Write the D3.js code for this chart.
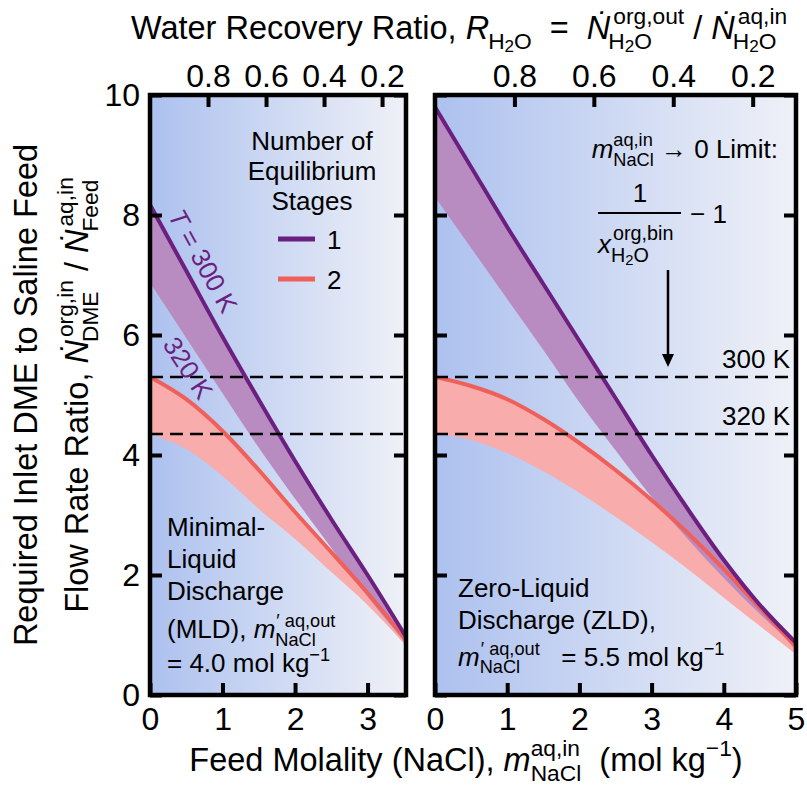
<!DOCTYPE html>
<html><head><meta charset="utf-8">
<script src="https://cdn.jsdelivr.net/npm/d3@7"></script>
<style>
body{margin:0;background:#fff}
text{font-family:'Liberation Sans',Arial,sans-serif;fill:#000;white-space:pre}
</style></head>
<body><div id="chart"></div>
<script>
// ---------------- DATA ----------------
// Minimal-Liquid Discharge panel (m'out = 4.0)
const mldM      = [0, 0.5, 1.0, 1.5, 2.0, 2.5, 3.0, 3.53];
const mld1_300  = [8.17, 7.07, 5.97, 4.92, 3.90, 2.93, 2.00, 0.97];
const mld1_320  = [6.87, 5.95, 5.03, 4.12, 3.27, 2.45, 1.64, 0.85];
const mld2_300  = [5.30, 4.93, 4.40, 3.75, 3.05, 2.38, 1.70, 0.92];
const mld2_320  = [4.35, 4.10, 3.65, 3.10, 2.60, 2.05, 1.50, 0.82];
// Zero-Liquid Discharge panel (m'out = 5.5)
const zldM      = [0, 0.5, 1.0, 1.5, 2.0, 2.5, 3.0, 3.5, 4.0, 4.5, 5.0];
const zld1_300  = [9.80, 8.80, 7.80, 6.85, 5.90, 4.95, 4.00, 3.10, 2.25, 1.50, 0.87];
const zld1_320  = [8.30, 7.45, 6.60, 5.75, 4.88, 4.08, 3.30, 2.60, 1.95, 1.35, 0.80];
const zld2_300  = [5.30, 5.15, 4.93, 4.60, 4.20, 3.75, 3.25, 2.70, 2.10, 1.45, 0.80];
const zld2_320  = [4.35, 4.25, 4.03, 3.73, 3.37, 2.97, 2.55, 2.10, 1.62, 1.15, 0.68];
// limits (1/x_bin - 1) for 300 K and 320 K
const limitVals   = [5.30, 4.35];
const limitLabels = ["300 K", "320 K"];
// axes
const yTicks     = [0, 2, 4, 6, 8, 10];
const mldXTicks  = [0, 1, 2, 3];
const zldXTicks  = [0, 1, 2, 3, 4, 5];
const topRTicks  = [0.8, 0.6, 0.4, 0.2];
const mOutVals   = [4.0, 5.5];
const mMaxVals   = [3.53, 5.0];
const stageLabels = ["1", "2"];

// ---------------- STYLE ----------------
const PURPLE = "#6b1f7f", PURPLE_FILL = "#b88cc0";
const RED = "#f0605a", PINK_FILL = "#f8acab";
const W = 807, H = 790, yTop = 95, yBot = 695;

const svg = d3.select("#chart").append("svg").attr("width", W).attr("height", H);
svg.append("rect").attr("width", W).attr("height", H).attr("fill", "#fff");
const defs = svg.append("defs");
const grad = defs.append("linearGradient").attr("id", "bg").attr("x1", 0).attr("x2", 1).attr("y1", 0).attr("y2", 0);
grad.append("stop").attr("offset", "0%").attr("stop-color", "#adc1ef");
grad.append("stop").attr("offset", "100%").attr("stop-color", "#eff1f7");

// rich text helper
function rich(parent, x0, y0, items, opt) {
  const fs = opt.fs;
  const col = opt.color || "#000";
  const g = parent.append("g").attr("transform", `translate(${x0},${y0}) rotate(${opt.rot || 0})`);
  const inner = g.append("g");
  let x = 0;
  const ss = fs * (opt.ss || 0.7);
  const subY = opt.subY != null ? opt.subY : 0.32;
  const supY = opt.supY != null ? opt.supY : 0.47;
  function addScript(xx, yy, content) {
    const t = inner.append("text").attr("x", xx).attr("y", yy).style("font-size", ss + "px").style("fill", col);
    if (content === "H2O") {
      t.append("tspan").text("H");
      t.append("tspan").attr("dy", 3).style("font-size", (ss * 0.75) + "px").text("2");
      t.append("tspan").attr("dy", -3).style("font-size", ss + "px").text("O");
    } else t.text(content);
    return t.node().getComputedTextLength();
  }
  items.forEach(it => {
    if (it.sp) { x += it.sp; return; }
    if (it.t) {
      const t = inner.append("text").attr("x", x).attr("y", 0)
        .style("font-size", fs + "px").style("font-style", it.it ? "italic" : "normal")
        .style("fill", col).text(it.t);
      x += t.node().getComputedTextLength() + (it.after || 0);
    }
    let w = 0;
    if (it.sup) w = Math.max(w, addScript(x + (it.supdx || 0), -fs * supY, it.sup) + (it.supdx || 0));
    if (it.sub) w = Math.max(w, addScript(x + (it.subdx || 0), fs * subY, it.sub) + (it.subdx || 0));
    x += w;
  });
  const shift = opt.anchor === "middle" ? -x / 2 : opt.anchor === "end" ? -x : 0;
  inner.attr("transform", `translate(${shift},${opt.dy || 0})`);
  return g;
}

const y = d3.scaleLinear().domain([0, 10]).range([yBot, yTop]);

const panels = [
  {x0: 150, x1: 406, m: mldM, s1a: mld1_300, s1b: mld1_320, s2a: mld2_300, s2b: mld2_320, xt: mldXTicks, mOut: mOutVals[0], mMax: mMaxVals[0]},
  {x0: 435, x1: 796, m: zldM, s1a: zld1_300, s1b: zld1_320, s2a: zld2_300, s2b: zld2_320, xt: zldXTicks, mOut: mOutVals[1], mMax: mMaxVals[1]}
];

panels.forEach((p, pi) => {
  const x = d3.scaleLinear().domain([0, p.mMax]).range([p.x0, p.x1]);
  const r = d3.scaleLinear().domain([1, 1 - p.mMax / p.mOut]).range([p.x0, p.x1]);
  const g = svg.append("g");
  g.append("rect").attr("x", p.x0).attr("y", yTop).attr("width", p.x1 - p.x0).attr("height", yBot - yTop).attr("fill", "url(#bg)");
  defs.append("clipPath").attr("id", "clip" + pi).append("rect")
    .attr("x", p.x0).attr("y", yTop).attr("width", p.x1 - p.x0).attr("height", yBot - yTop);
  const c = g.append("g").attr("clip-path", `url(#clip${pi})`);
  const idx = d3.range(p.m.length);
  const area = (lo, hi) => d3.area().x(i => x(p.m[i])).y0(i => y(lo[i])).y1(i => y(hi[i])).curve(d3.curveMonotoneX)(idx);
  const line = s => d3.line().x(i => x(p.m[i])).y(i => y(s[i])).curve(d3.curveMonotoneX)(idx);
  c.append("path").attr("d", area(p.s2b, p.s2a)).attr("fill", PINK_FILL);
  c.append("path").attr("d", area(p.s1b, p.s1a)).attr("fill", PURPLE_FILL);
  c.append("path").attr("d", line(p.s2a)).attr("fill", "none").attr("stroke", RED).attr("stroke-width", 4);
  c.append("path").attr("d", line(p.s1a)).attr("fill", "none").attr("stroke", PURPLE).attr("stroke-width", 4);
  limitVals.forEach(v => {
    c.append("line").attr("x1", p.x0).attr("x2", p.x1).attr("y1", y(v)).attr("y2", y(v))
      .attr("stroke", "#000").attr("stroke-width", 2.5).attr("stroke-dasharray", "13,7");
  });

  const styleAx = a => {
    a.select(".domain").remove();
    a.selectAll(".tick line").attr("stroke", "#000").attr("stroke-width", 4);
    a.selectAll("text").style("font-size", "32px").attr("fill", "#000").style("font-family", "'Liberation Sans',Arial,sans-serif");
  };
  g.append("g").attr("transform", `translate(0,${yBot})`)
    .call(d3.axisBottom(x).tickValues(p.xt).tickSize(-12).tickPadding(12).tickFormat(d3.format("d"))).call(styleAx);
  g.append("g").attr("transform", `translate(0,${yTop})`)
    .call(d3.axisTop(r).tickValues(topRTicks).tickSize(-12).tickPadding(8).tickFormat(d3.format(".1f"))).call(styleAx);
  g.append("g").attr("transform", `translate(${p.x0},0)`)
    .call(d3.axisLeft(y).tickValues(yTicks).tickSize(-12).tickPadding(10).tickFormat(pi === 0 ? d3.format("d") : () => "")).call(styleAx);
  g.append("g").attr("transform", `translate(${p.x1},0)`)
    .call(d3.axisRight(y).tickValues(yTicks).tickSize(-12).tickFormat(() => "")).call(styleAx);
  g.append("rect").attr("x", p.x0).attr("y", yTop).attr("width", p.x1 - p.x0).attr("height", yBot - yTop)
    .attr("fill", "none").attr("stroke", "#000").attr("stroke-width", 4.5);
});

// ---------------- TEXT ----------------
const FS = 26, TF = 32.5;
// title
rich(svg, 459, 39, [
  {t: "Water Recovery Ratio, "}, {t: "R", it: true, sub: "H2O", subdx: -1},
  {t: "  =  "}, {t: "Ṅ", it: true, sup: "org,out", supdx: 3, sub: "H2O", subdx: -2},
  {t: " / "}, {t: "Ṅ", it: true, sup: "aq,in", supdx: 3, sub: "H2O", subdx: -2}
], {fs: TF, anchor: "middle", subY: 0.3, supY: 0.45});
// x label
rich(svg, 466, 771, [
  {t: "Feed Molality (NaCl), "}, {t: "m", it: true, sup: "aq,in", sub: "NaCl"},
  {t: "  (mol kg", sup: "−1"}, {t: ")"}
], {fs: TF, anchor: "middle", subY: 0.3, supY: 0.45});
// y label
rich(svg, 37, 395, [{t: "Required Inlet DME to Saline Feed"}], {fs: TF, anchor: "middle", rot: -90});
rich(svg, 88, 395, [
  {t: "Flow Rate Ratio, "}, {t: "Ṅ", it: true, sup: "org,in", supdx: 3, sub: "DME", subdx: -2},
  {t: " / "}, {t: "Ṅ", it: true, sup: "aq,in", supdx: 3, sub: "Feed", subdx: -2}
], {fs: TF, anchor: "middle", rot: -90, subY: 0.3, supY: 0.45});

// legend
["Number of", "Equilibrium", "Stages"].forEach((s, i) => {
  svg.append("text").attr("x", 312).attr("y", 150 + 30 * i).attr("text-anchor", "middle").style("font-size", FS + "px").text(s);
});
[PURPLE, RED].forEach((col, i) => {
  const yy = 239 + 40 * i;
  svg.append("line").attr("x1", 278).attr("x2", 315).attr("y1", yy).attr("y2", yy).attr("stroke", col).attr("stroke-width", 5);
  svg.append("text").attr("x", 327).attr("y", yy + 10).style("font-size", FS + "px").text(stageLabels[i]);
});

// temperature labels on curves
rich(svg, 203, 261, [{t: "T", it: true}, {t: " = 300 K"}], {fs: FS, anchor: "middle", rot: 61, dy: 9, color: PURPLE});
rich(svg, 188, 368, [{t: "320 K"}], {fs: FS, anchor: "middle", rot: 57, dy: 9, color: PURPLE});

// MLD annotation
["Minimal-", "Liquid", "Discharge"].forEach((s, i) => {
  svg.append("text").attr("x", 167).attr("y", [536, 568, 600][i]).style("font-size", FS + "px").text(s);
});
rich(svg, 167, 638, [{t: "(MLD), "}, {t: "m", it: true, sup: "′ aq,out", supdx: 1, sub: "NaCl"}], {fs: FS, supY: 0.42});
rich(svg, 167, 672, [{t: "= 4.0 mol kg", sup: "−1"}], {fs: FS, supY: 0.42});

// ZLD annotation
svg.append("text").attr("x", 458).attr("y", 597).style("font-size", FS + "px").text("Zero-Liquid");
svg.append("text").attr("x", 458).attr("y", 629).style("font-size", FS + "px").text("Discharge (ZLD),");
rich(svg, 458, 666, [{t: "m", it: true, sup: "′ aq,out", supdx: 1, sub: "NaCl"}, {t: "   = 5.5 mol kg", sup: "−1"}], {fs: FS, supY: 0.42, subY: 0.28});

// limit annotation
rich(svg, 778, 158, [{t: "m", it: true, sup: "aq,in", sub: "NaCl"}, {t: " → 0 Limit:"}], {fs: FS, anchor: "end"});
svg.append("text").attr("x", 640).attr("y", 202).attr("text-anchor", "middle").style("font-size", FS + "px").text("1");
svg.append("line").attr("x1", 598).attr("x2", 681).attr("y1", 213).attr("y2", 213).attr("stroke", "#000").attr("stroke-width", 2);
svg.append("text").attr("x", 690).attr("y", 223).style("font-size", FS + "px").text("− 1");
rich(svg, 598, 253, [{t: "x", it: true, sup: "org,bin", supdx: 2, sub: "H2O"}], {fs: FS, ss: 0.76, supY: 0.5, subY: 0.34});
svg.append("line").attr("x1", 668).attr("x2", 668).attr("y1", 270).attr("y2", 356).attr("stroke", "#000").attr("stroke-width", 2.5);
svg.append("path").attr("d", "M662,354L674,354L668,367Z").attr("fill", "#000");
limitVals.forEach((v, i) => {
  svg.append("text").attr("x", 790).attr("y", y(v) - 9).attr("text-anchor", "end").style("font-size", FS + "px").text(limitLabels[i]);
});
</script></body></html>
